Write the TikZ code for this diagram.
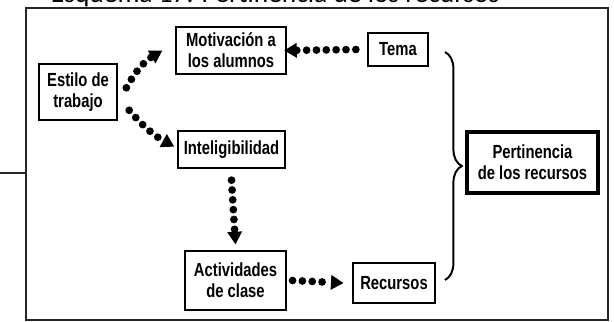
\documentclass[tikz,border=0pt]{standalone}
\usepackage{fontspec}
\setmainfont{Carlito}
\newfontfamily\boxfont{Liberation Sans}[FakeStretch=0.78]
\usetikzlibrary{positioning,arrows.meta,decorations.pathreplacing}

\begin{document}
\begin{tikzpicture}[x=0.025cm,y=-0.025cm,
  box/.style={draw,line width=1.3pt,align=center,inner sep=0pt,font=\boxfont\bfseries\fontsize{13.5}{15}\selectfont},
  dotarr/.style={line width=5.5pt,line cap=round,dash pattern=on 0pt off 7pt,-{Triangle[length=9pt,width=10pt]}},
  frame/.style={line width=1.2pt,draw=black!85}
]
  \clip (0,0) rectangle (614,322);
  % title, cut at the top edge
  \node[anchor=base west,font=\fontsize{19.5}{22}\selectfont] (titulo) at (46,3) {Esquema 17. Pertinencia de los recursos};
  \draw[frame] (26,8) rectangle (608,320);
  \draw[frame] (0,173) -- (26,173);

  \node[box,minimum width=1.95cm,minimum height=1.4cm] (estilo) at (78,92) {Estilo de\\trabajo};
  \node[box,minimum width=2.75cm,minimum height=1.175cm] (motiv) at (231,50.5) {Motivaci\'on a\\los alumnos};
  \node[box,minimum width=2.675cm,minimum height=0.925cm] (intel) at (231.5,149.5) {Inteligibilidad};
  \node[box,minimum width=1.5cm,minimum height=0.825cm] (tema) at (398,49.5) {Tema};
  \node[box,line width=2.8pt,minimum width=3.275cm,minimum height=1.525cm] (pert) at (532.5,162.5) {Pertinencia\\de los recursos};
  \node[box,minimum width=2.525cm,minimum height=1.475cm] (activ) at (235.5,280.5) {Actividades\\de clase};
  \node[box,minimum width=2.05cm,minimum height=1cm] (recur) at (394,283) {Recursos};

  \draw[dotarr] ([xshift=6pt,yshift=3pt]estilo.east) to[bend left=15] ([xshift=-9pt]motiv.west);
  \draw[dotarr] ([xshift=8pt,yshift=-13pt]estilo.east) to[bend right=10] ([xshift=-2pt,yshift=2pt]intel.west);
  \draw[dotarr] ([xshift=-8pt]tema.west) -- ([xshift=-2pt]motiv.east);
  \draw[dotarr] ([yshift=-8pt]intel.south) -- ([yshift=4pt]activ.north);
  \draw[dotarr] ([xshift=4pt]activ.east) -- ([xshift=-6pt]recur.west);

  \coordinate (bt) at (445,52);
  \coordinate (bb) at (445,280);
  \draw[line width=1.4pt,decorate,decoration={brace,amplitude=0.42cm}] (bt) -- (bb);
\end{tikzpicture}
\end{document}
